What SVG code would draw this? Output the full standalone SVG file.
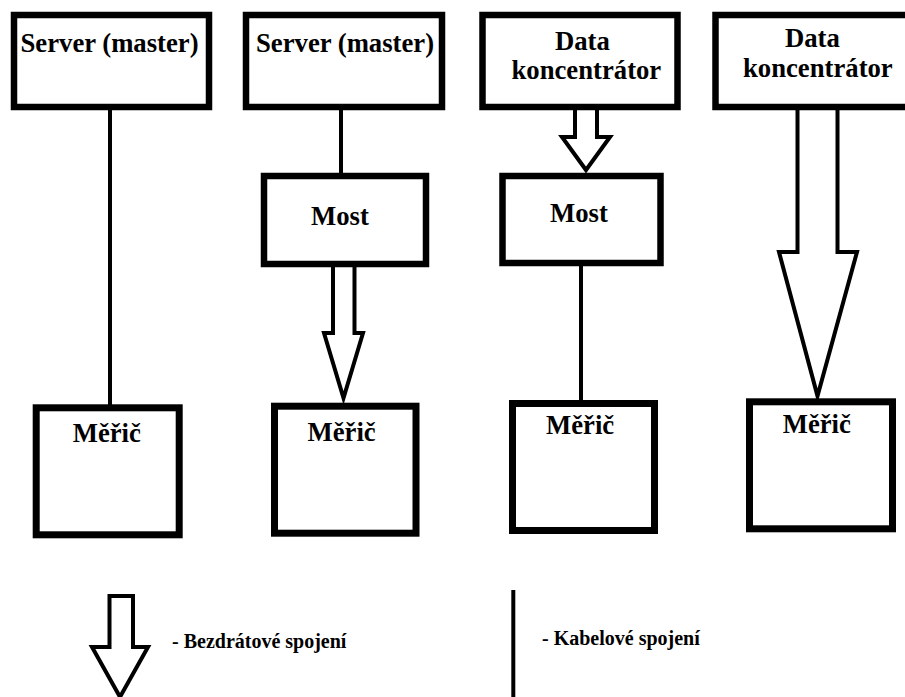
<svg xmlns="http://www.w3.org/2000/svg" width="905" height="697" viewBox="0 0 905 697">
<style>
.box{fill:#fff;stroke:#000;stroke-width:6.5}
.mtr{fill:#fff;stroke:#000;stroke-width:7}
.t{font-weight:bold;font-size:26.7px;fill:#000}
.lt{font-weight:bold;font-size:20px;fill:#000}
.cab{fill:none;stroke:#000;stroke-width:4}
.wl{fill:#fff;stroke:#000;stroke-width:4;stroke-linejoin:miter}
</style>
<rect width="905" height="697" fill="#fff"/>
<g id="connectors">
<line class="cab" x1="110" y1="110" x2="110" y2="405"/>
<line class="cab" x1="341" y1="110" x2="341" y2="174"/>
<line class="cab" x1="581" y1="266" x2="581" y2="401"/>
<path class="wl" d="M333,267 V333 H324 L343.5,398 L363,333 H354.5 V267"/>
<path class="wl" d="M575,110 V137 H562 L586,170 L610,137 H597 V110"/>
<path class="wl" d="M797.5,110 V252 H779 L817.5,396 L857,252 H837.5 V110"/>
</g>
<g font-family="Liberation Serif, Tinos, DejaVu Serif, serif">
<g id="server1"><rect class="box" x="14" y="15" width="195" height="92"/><text class="t" x="20.5" y="51.5">Server (master)</text></g>
<g id="server2"><rect class="box" x="246" y="15" width="196" height="92"/><text class="t" x="256" y="51.5">Server (master)</text></g>
<g id="dc1"><rect class="box" x="482.5" y="15" width="195" height="92"/><text class="t" x="555" y="50">Data</text><text class="t" x="511.5" y="79">koncentrátor</text></g>
<g id="dc2"><rect class="box" x="715.5" y="15" width="220" height="92"/><text class="t" x="785" y="46.5">Data</text><text class="t" x="743" y="76.5">koncentrátor</text></g>
<g id="most1"><rect class="box" x="264" y="176" width="162" height="88"/><text class="t" x="311" y="225">Most</text></g>
<g id="most2"><rect class="box" x="502.5" y="176" width="158" height="87"/><text class="t" x="550" y="222">Most</text></g>
<g id="meric1"><rect class="mtr" x="36.2" y="407.8" width="143" height="127"/><text class="t" x="72.7" y="441.7">Měřič</text></g>
<g id="meric2"><rect class="mtr" x="274.5" y="406.2" width="141.5" height="127"/><text class="t" x="307.5" y="440.7">Měřič</text></g>
<g id="meric3"><rect class="mtr" x="512.5" y="403.5" width="142" height="127"/><text class="t" x="546" y="434">Měřič</text></g>
<g id="meric4"><rect class="mtr" x="749.5" y="401.8" width="143" height="127"/><text class="t" x="782.7" y="433.3">Měřič</text></g>
<g id="legend">
<path class="wl" d="M109.5,596 V647 H92 L120,697 L148,647 H133 V596 Z"/>
<text class="lt" x="172" y="648">- Bezdrátové spojení</text>
<line class="cab" x1="513.3" y1="590" x2="513.3" y2="697"/>
<text class="lt" x="542" y="645">- Kabelové spojení</text>
</g>
</g>
</svg>
